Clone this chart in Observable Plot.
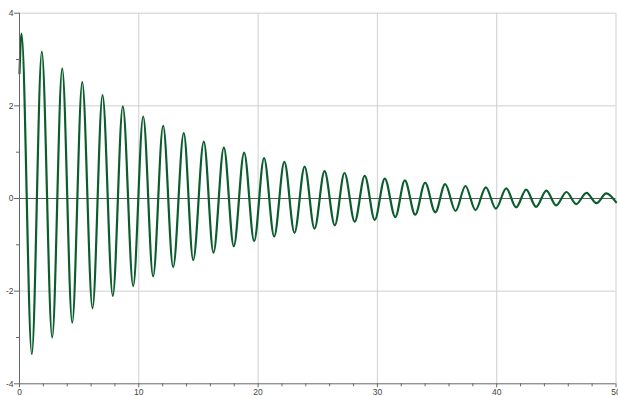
<!DOCTYPE html>
<html><head><meta charset="utf-8">
<script src="https://cdn.jsdelivr.net/npm/d3@7"></script>
<script src="https://cdn.jsdelivr.net/npm/@observablehq/plot@0.6"></script>
<style>html,body{margin:0;padding:0;background:#fff;overflow:hidden}</style>
</head><body><div id="chart"></div>
<script>
// Time (x) of the start, each peak/trough, and the end of the trace
const timeValues = [
  0.00, 0.17, 1.03, 1.87, 2.74, 3.58, 4.42, 5.26, 6.12, 6.96, 7.82,
  8.66, 9.53, 10.37, 11.20, 12.04, 12.88, 13.77, 14.56, 15.45, 16.26,
  17.13, 17.96, 18.83, 19.67, 20.50, 21.35, 22.20, 23.05, 23.90, 24.73,
  25.57, 26.43, 27.24, 28.10, 28.94, 29.78, 30.62, 31.50, 32.30, 33.17,
  34.00, 34.85, 35.68, 36.55, 37.38, 38.22, 39.09, 39.93, 40.80, 41.63,
  42.47, 43.30, 44.17, 44.98, 45.85, 46.66, 47.53, 48.37, 49.18, 50.00
];
// Signal value at those times
const signalValues = [
  2.70, 3.56, -3.36, 3.17, -3.00, 2.81, -2.68, 2.51, -2.37, 2.23, -2.10,
  1.99, -1.89, 1.77, -1.68, 1.57, -1.48, 1.41, -1.33, 1.23, -1.17,
  1.10, -1.03, 0.99, -0.92, 0.87, -0.82, 0.79, -0.74, 0.69, -0.65,
  0.59, -0.58, 0.55, -0.50, 0.49, -0.46, 0.43, -0.40, 0.39, -0.35,
  0.34, -0.30, 0.31, -0.27, 0.27, -0.25, 0.24, -0.22, 0.22, -0.19,
  0.19, -0.18, 0.17, -0.15, 0.14, -0.12, 0.12, -0.10, 0.11, -0.08
];
const xMajorTicks = [0, 10, 20, 30, 40, 50];
const xMinorTicks = [2, 4, 6, 8, 12, 14, 16, 18, 22, 24, 26, 28, 32, 34, 36, 38, 42, 44, 46, 48];
const yMajorTicks = [-4, -2, 0, 2, 4];
const yMinorTicks = [-3, -1, 1, 3];
const xGrid = [10, 20, 30, 40, 50];
const yGrid = [-2, 2, 4];

const data = timeValues.map((t, i) => ({t, v: signalValues[i]}));

const chart = Plot.plot({
  width: 618,
  height: 396,
  marginLeft: 19,
  marginRight: 2.5,
  marginTop: 12.7,
  marginBottom: 12.7,
  style: {fontFamily: "'Liberation Sans', Arial, sans-serif", fontSize: "8.5px", color: "#444", background: "#fff"},
  x: {domain: [0, 50]},
  y: {domain: [-4, 4]},
  marks: [
    Plot.ruleX(xGrid, {stroke: "#cfcfcf", strokeWidth: 1}),
    Plot.ruleY(yGrid, {stroke: "#cfcfcf", strokeWidth: 1}),
    Plot.ruleY([0], {stroke: "#5a5a5a", strokeWidth: 1}),
    Plot.line(data, {x: "t", y: "v", curve: "monotone-x", stroke: "#0b5d2e", strokeWidth: 2.2}),
    Plot.axisX({ticks: xMajorTicks, tickSize: 4, tickPadding: 1, stroke: "#666", label: null, tickFormat: d => String(d)}),
    Plot.axisX({ticks: xMinorTicks, tickSize: 3, stroke: "#666", label: null, tickFormat: () => ""}),
    Plot.axisY({ticks: yMajorTicks, tickSize: 5, tickPadding: 1, stroke: "#666", label: null, tickFormat: d => String(d)}),
    Plot.axisY({ticks: yMinorTicks, tickSize: 3, stroke: "#666", label: null, tickFormat: () => ""}),
    Plot.ruleX([0], {stroke: "#666"}),
    Plot.ruleY([-4], {stroke: "#666"})
  ]
});
document.getElementById("chart").appendChild(chart);
</script>
</body></html>
